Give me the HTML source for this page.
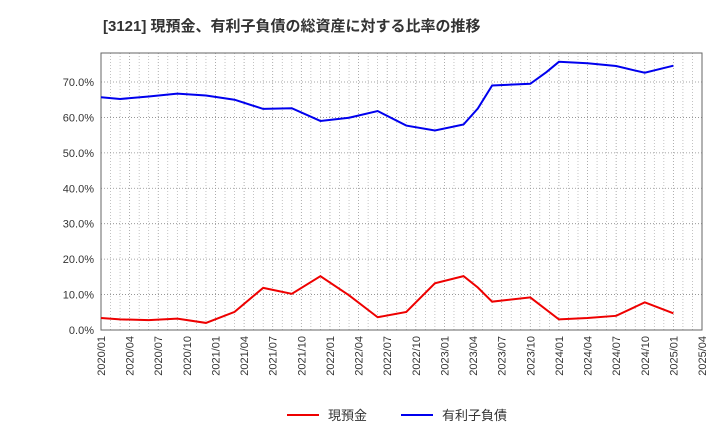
<!DOCTYPE html>
<html><head><meta charset="utf-8"><style>
body{margin:0;background:#fff;font-family:"Liberation Sans","Noto Sans CJK JP",sans-serif;}
</style></head><body>
<svg id="c" width="720" height="440" xmlns="http://www.w3.org/2000/svg" font-family="Liberation Sans, Noto Sans CJK JP, sans-serif">
<text x="103" y="31" font-size="15" font-weight="bold" fill="#333">[3121]  現預金、有利子負債の総資産に対する比率の推移</text>
<g id="grid"></g><g id="axes"></g><g id="series"></g>
<g>
<line x1="287" y1="415" x2="319" y2="415" stroke="#e00" stroke-width="2"/>
<text x="328" y="420" font-size="13" fill="#333">現預金</text>
<line x1="401" y1="415" x2="433" y2="415" stroke="#00e" stroke-width="2"/>
<text x="442" y="420" font-size="13" fill="#333">有利子負債</text>
</g>
</svg>
<script>
const tickLabels=["2020/01","2020/04","2020/07","2020/10","2021/01","2021/04","2021/07","2021/10","2022/01","2022/04","2022/07","2022/10","2023/01","2023/04","2023/07","2023/10","2024/01","2024/04","2024/07","2024/10","2025/01","2025/04"];
const yTicks=[0,10,20,30,40,50,60,70];
const debtMonths=[0,2,5,8,11,14,17,20,23,26,29,32,35,38,39.5,41,45,46.7,48,51,54,57,60];
const debtValues=[65.7,65.2,65.9,66.7,66.2,65.0,62.4,62.6,59.0,59.9,61.8,57.7,56.3,58.0,62.5,69.0,69.5,72.8,75.7,75.3,74.5,72.6,74.6];
const cashMonths=[0,2,5,8,11,14,17,20,23,26,29,32,35,38,39.5,41,45,48,51,54,57,60];
const cashValues=[3.4,3.0,2.8,3.2,2.0,5.1,11.9,10.2,15.2,9.8,3.6,5.1,13.2,15.2,12.0,8.0,9.2,3.0,3.4,4.0,7.8,4.7];
const L=101,R=702,T=53,B=330;
const x=m=>L+m*(R-L)/63;
const y=v=>B-v*3.543;
const NS="http://www.w3.org/2000/svg";
function mk(p,t,a){const e=document.createElementNS(NS,t);for(const k in a)e.setAttribute(k,a[k]);document.getElementById(p).appendChild(e);return e;}
for(let m=1;m<63;m++){if(m%3===0)continue;const xx=x(m);
 const g=mk("grid","line",{x1:xx,x2:xx,y1:T,y2:B,stroke:"#aaa","stroke-dasharray":"1,2","stroke-width":0.7});
 
 
}
tickLabels.forEach((lab,i)=>{const xx=x(i*3);
 const g=mk("grid","line",{x1:xx,x2:xx,y1:T,y2:B,stroke:"#999","stroke-dasharray":"1,2","stroke-width":0.8});
 
 
 const t=mk("axes","text",{x:0,y:0,"font-size":11,fill:"#333","text-anchor":"end",transform:`translate(${xx+4},${B+6}) rotate(-90)`});
 t.textContent=lab;
 
 
});
yTicks.forEach(v=>{const yy=y(v);
 const g=mk("grid","line",{x1:L,x2:R,y1:yy,y2:yy,stroke:"#888","stroke-dasharray":"1,2","stroke-width":0.8});
 
 
 const t=mk("axes","text",{x:94,y:yy+4,"font-size":11,fill:"#333","text-anchor":"end"});
 t.textContent=v.toFixed(1)+"%";
 
 
});
const fr=mk("axes","rect",{x:L,y:T,width:R-L,height:B-T,fill:"none",stroke:"#666","stroke-width":1});


const d1=mk("series","polyline",{points:debtMonths.map((m,i)=>x(m)+","+y(debtValues[i])).join(" "),fill:"none",stroke:"#00e","stroke-width":2});


const d2=mk("series","polyline",{points:cashMonths.map((m,i)=>x(m)+","+y(cashValues[i])).join(" "),fill:"none",stroke:"#e00","stroke-width":2});


</script>
</body></html>
